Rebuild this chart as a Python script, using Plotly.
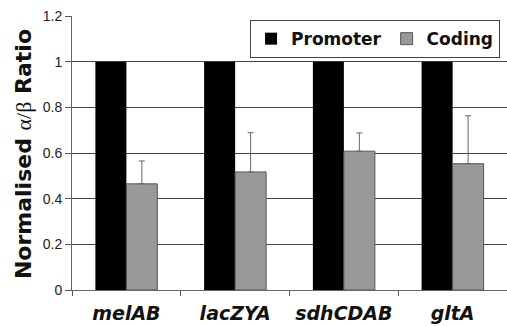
import plotly.graph_objects as go

genes = ["melAB", "lacZYA", "sdhCDAB", "gltA"]
promoter = [1.0, 1.0, 1.0, 1.0]
coding = [0.465, 0.517, 0.608, 0.553]
coding_err = [0.10, 0.172, 0.08, 0.21]
y_ticks = [0, 0.2, 0.4, 0.6, 0.8, 1, 1.2]
y_tick_labels = ["0", "0.2", "0.4", "0.6", "0.8", "1", "1.2"]

tick_labels = [f"<b><i>{g}</i></b>" for g in genes]

fig = go.Figure()
fig.add_trace(go.Bar(
    x=genes, y=promoter, name="<b>Promoter</b>",
    marker=dict(color="#000000", line=dict(color="#000000", width=0)),
))
fig.add_trace(go.Bar(
    x=genes, y=coding, name="<b>Coding</b>",
    marker=dict(color="#999999", line=dict(color="#555555", width=1)),
    error_y=dict(type="data", symmetric=False, array=coding_err,
                 arrayminus=[0] * len(coding_err),
                 color="#666666", thickness=1, width=3),
))

fig.update_layout(
    width=507, height=326,
    margin=dict(l=72, r=0, t=16, b=36),
    paper_bgcolor="white", plot_bgcolor="white",
    barmode="group", bargap=0.43, bargroupgap=0,
    showlegend=True,
    legend=dict(
        orientation="h", x=0.984, xanchor="right", y=0.985, yanchor="top",
        bgcolor="white", bordercolor="#444444", borderwidth=1,
        font=dict(family="DejaVu Sans", size=17, color="#111111"),
        tracegroupgap=0,
    ),
    xaxis=dict(
        tickmode="array", tickvals=genes, ticktext=tick_labels,
        tickson="boundaries", ticks="outside", ticklen=5, tickcolor="#555555",
        showline=True, linecolor="#666666", linewidth=1,
        tickfont=dict(family="DejaVu Sans", size=19, color="#111111"),
        tickangle=0, automargin=False,
        ticklabelstandoff=6,
        showgrid=False,
    ),
    yaxis=dict(
        range=[0, 1.2], tickmode="array", tickvals=y_ticks, ticktext=y_tick_labels,
        ticks="outside", ticklen=6, tickcolor="#555555",
        showline=True, linecolor="#666666", linewidth=1,
        showgrid=True, gridcolor="#444444", gridwidth=1,
        zeroline=False, automargin=False,
        tickfont=dict(family="Liberation Sans", size=14, color="#222222"),
    ),
    annotations=[dict(
        text="<b>Normalised </b><span style=\"font-family:'Liberation Serif';font-weight:normal\">α/β</span><b> Ratio</b>",
        textangle=-90, xref="paper", yref="paper",
        x=(23 - 72) / 435, y=0.496, xanchor="center", yanchor="middle",
        showarrow=False,
        font=dict(family="DejaVu Sans", size=22, color="#111111"),
    )],
)

fig.write_html("out.html")
